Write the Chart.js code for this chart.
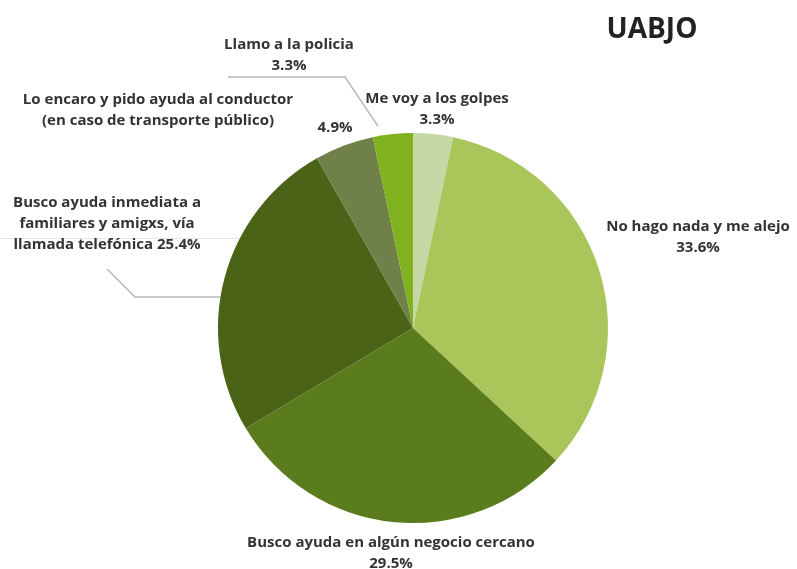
<!DOCTYPE html>
<html>
<head>
<meta charset="utf-8">
<script src="https://cdn.jsdelivr.net/npm/chart.js@4/dist/chart.umd.min.js"></script>
<style>
  html, body { margin: 0; padding: 0; background: #ffffff; }
  #wrap { width: 797px; height: 569px; position: relative; }
</style>
</head>
<body>
<div id="wrap"><canvas id="c" width="797" height="569"></canvas></div>
<script>
// Responses, clockwise from 12 o'clock
const categories = [
  'Me voy a los golpes',
  'No hago nada y me alejo',
  'Busco ayuda en algún negocio cercano',
  'Busco ayuda inmediata a familiares y amigxs, vía llamada telefónica',
  'Lo encaro y pido ayuda al conductor (en caso de transporte público)',
  'Llamo a la policia'
];
const percentages = [3.3, 33.6, 29.5, 25.4, 4.9, 3.3];
const sliceColors = ['#c6d7a6', '#aac65b', '#5a7c1c', '#4a6316', '#6f8048', '#80b11f'];
const chartTitle = 'UABJO';

// Label blocks: text lines (value appended from data), anchor position
const labelLayout = [
  { lines: ['Me voy a los golpes'], x: 437, y: 99 },
  { lines: ['No hago nada y me alejo'], x: 698, y: 227 },
  { lines: ['Busco ayuda en algún negocio cercano'], x: 391, y: 543 },
  { lines: ['Busco ayuda inmediata a', 'familiares y amigxs, vía', 'llamada telefónica'], x: 107, y: 203, inline: true },
  { lines: ['Lo encaro y pido ayuda al conductor', '(en caso de transporte público)'], x: 158, y: 100, separate: { x: 335, y: 128 } },
  { lines: ['Llamo a la policia'], x: 289, y: 45 }
];

const fmt = v => v.toFixed(1) + '%';

const guidePlugin = {
  id: 'guide',
  beforeDatasetsDraw(chart) {
    const ctx = chart.ctx;
    ctx.save();
    ctx.strokeStyle = '#e6e6e6';
    ctx.lineWidth = 1;
    ctx.beginPath();
    ctx.moveTo(0, 238.5); ctx.lineTo(245, 238.5);
    ctx.stroke();
    ctx.restore();
  }
};

const labelPlugin = {
  id: 'sliceLabels',
  afterDraw(chart) {
    const ctx = chart.ctx;
    const meta = chart.getDatasetMeta(0);
    ctx.save();

    // leader lines
    ctx.strokeStyle = '#b8b8b8';
    ctx.lineWidth = 1.5;
    const police = meta.data[5];
    const pMid = (police.startAngle + police.endAngle) / 2;
    ctx.beginPath();
    ctx.moveTo(228, 77);
    ctx.lineTo(345, 77);
    ctx.lineTo(police.x + Math.cos(pMid) * (police.outerRadius + 8) - 14,
               police.y + Math.sin(pMid) * (police.outerRadius + 8));
    ctx.stroke();

    const fam = meta.data[3];
    const yEnd = 297;
    const xEnd = fam.x - Math.sqrt(fam.outerRadius * fam.outerRadius - (yEnd - fam.y) * (yEnd - fam.y));
    ctx.beginPath();
    ctx.moveTo(107, 269);
    ctx.lineTo(135, yEnd);
    ctx.lineTo(xEnd, yEnd);
    ctx.stroke();

    // text
    ctx.fillStyle = '#333333';
    ctx.font = 'bold 15px "Open Sans", sans-serif';
    ctx.textAlign = 'center';
    ctx.textBaseline = 'middle';
    const lh = 21;
    labelLayout.forEach((lab, i) => {
      const val = fmt(percentages[i]);
      const lines = lab.lines.slice();
      if (lab.inline) {
        lines[lines.length - 1] += ' ' + val;
      } else if (!lab.separate) {
        lines.push(val);
      }
      lines.forEach((t, k) => ctx.fillText(t, lab.x, lab.y + k * lh));
      if (lab.separate) ctx.fillText(val, lab.separate.x, lab.separate.y);
    });

    // title
    ctx.fillStyle = '#222222';
    ctx.font = 'bold 28px "Open Sans", sans-serif';
    ctx.fillText(chartTitle, 652, 30);
    ctx.restore();
  }
};

new Chart(document.getElementById('c'), {
  type: 'pie',
  data: {
    labels: categories,
    datasets: [{
      data: percentages,
      backgroundColor: sliceColors,
      borderWidth: 0
    }]
  },
  options: {
    responsive: false,
    animation: false,
    layout: { padding: { top: 133, bottom: 46, left: 218, right: 189 } },
    plugins: {
      legend: { display: false },
      tooltip: { enabled: false },
      title: { display: false }
    }
  },
  plugins: [guidePlugin, labelPlugin]
});
</script>
</body>
</html>
